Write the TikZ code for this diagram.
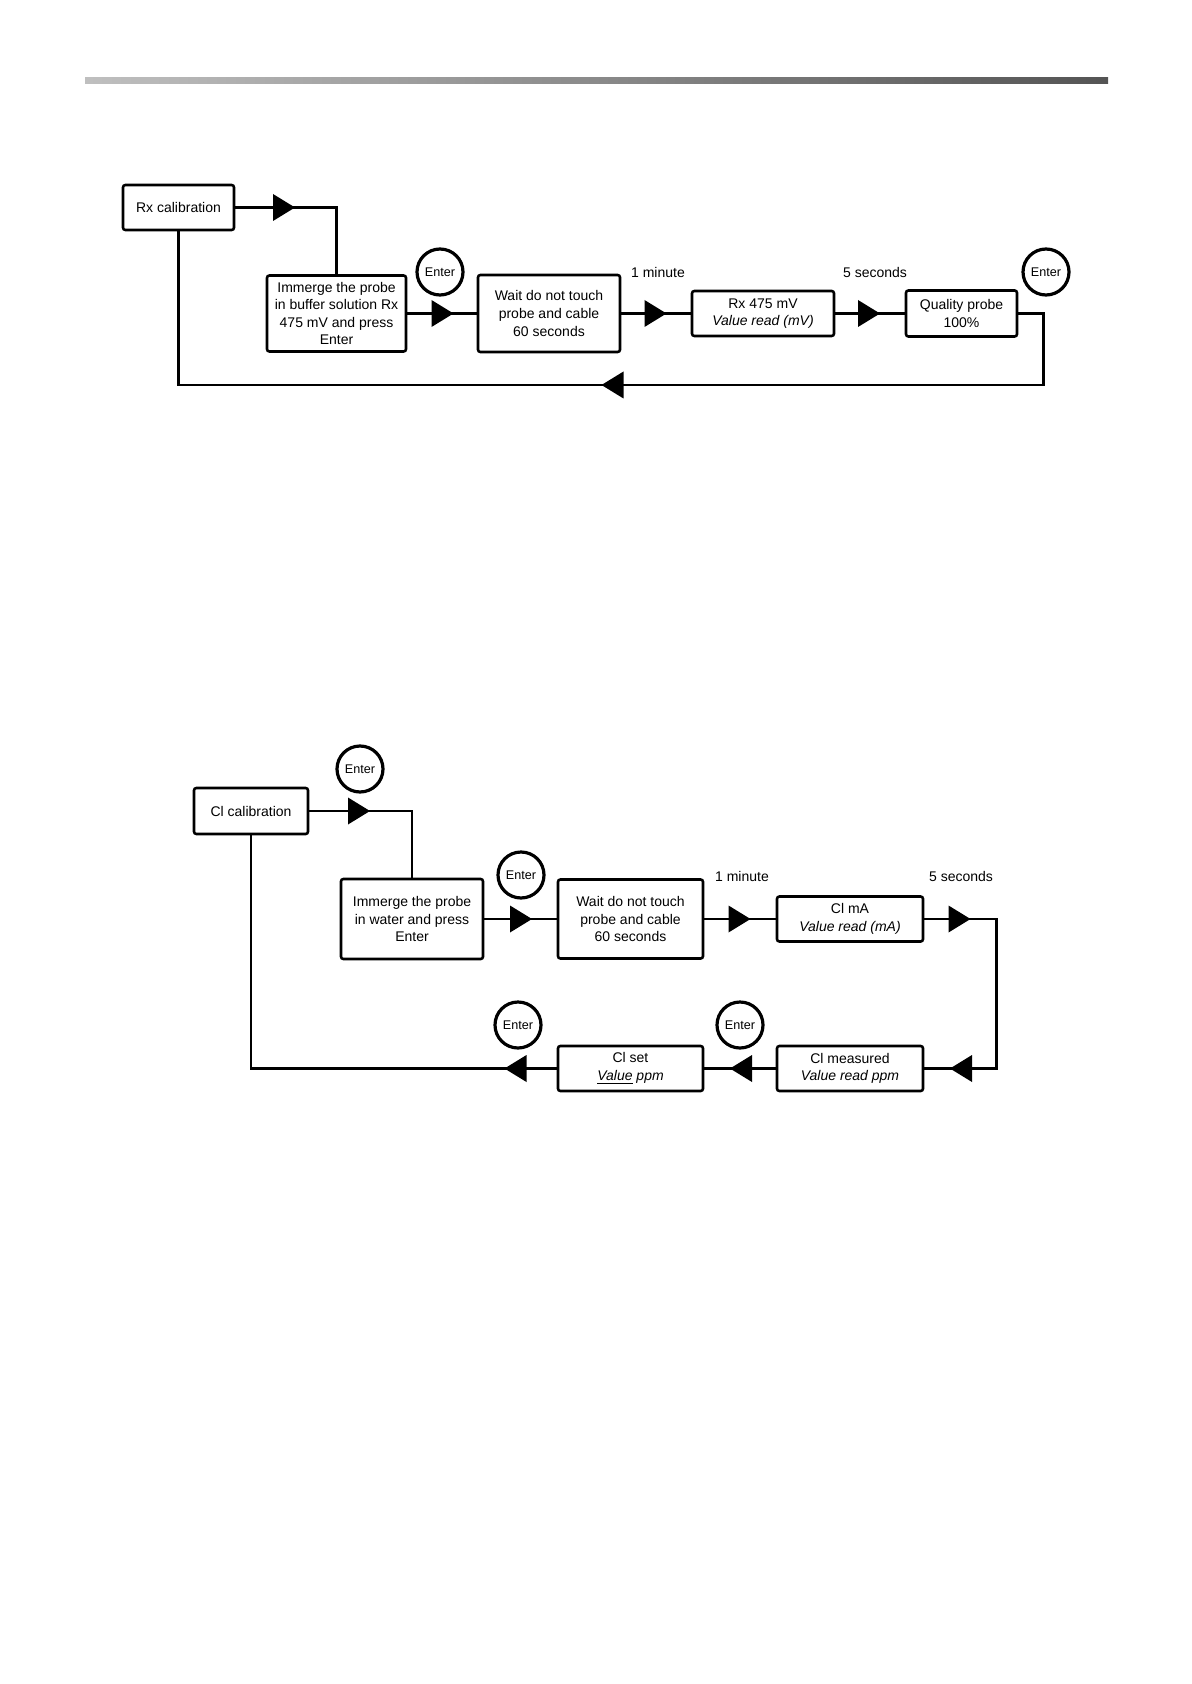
\documentclass[tikz,border=0pt]{standalone}
\usepackage{fontspec}
\setmainfont{Liberation Sans}
\usetikzlibrary{calc}
\tikzset{
  box/.style={draw, line width=1.3pt, rounded corners=1.2pt, align=center, inner sep=0pt, fill=white,
    font=\fontsize{7}{8.8}\selectfont},
  conn/.style={line width=1.2pt},
  enterc/.style={draw, circle, line width=1.6pt, minimum size=23pt, inner sep=0pt,
    font=\fontsize{6.3}{7}\selectfont},
  lbl/.style={inner sep=0pt, font=\fontsize{7}{8.8}\selectfont},
  rtri/.pic={\fill (-11,-13.5) -- (11,0) -- (-11,13.5) -- cycle; \coordinate (-c) at (0,0);},
  ltri/.pic={\fill (11,-13.5) -- (-11,0) -- (11,13.5) -- cycle; \coordinate (-c) at (0,0);}
}
\begin{document}
\begin{tikzpicture}[x=0.5pt, y=-0.5pt]
\useasboundingbox (0,0) rectangle (1191,1684);
% header bar
\shade[left color=black!25, right color=black!67] (85,78) rectangle (1108,84);

% ---------- Rx calibration ----------
\node[box, minimum width=55.5pt, minimum height=22.5pt] (rxcal) at (178.5,207.5) {Rx calibration};
\node[box, minimum width=69.5pt, minimum height=38pt] (imm) at (336.5,313.5) {Immerge the probe\\in buffer solution Rx\\475 mV and press\\Enter};
\node[box, minimum width=71pt, minimum height=38.5pt] (wait) at (549,313.5) {Wait do not touch\\probe and cable\\60 seconds};
\node[box, minimum width=71pt, minimum height=22.5pt] (rxval) at (763,313.5) {Rx 475 mV\\\textit{Value read (mV)}};
\node[box, minimum width=55.5pt, minimum height=23pt] (qual) at (961.5,313.5) {Quality probe\\100\%};
\node[enterc] (e1) at (440,272) {Enter};
\node[enterc] (e2) at (1046,272) {Enter};
\node[lbl] (m1) at (658,272) {1 minute};
\node[lbl] (s1) at (875,272) {5 seconds};
\coordinate (r1) at (1043.5,385);

\draw[conn] (rxcal.east) -| (imm.north);
\draw[conn] (imm.east) -- (wait.west);
\draw[conn] (wait.east) -- (rxval.west);
\draw[conn] (rxval.east) -- (qual.west);
\draw[conn] (qual.east) -| (r1) -| (rxcal.south);

\pic (ta) at (284,207.5) {rtri};
\pic (tb) at (442.5,313.5) {rtri};
\pic (tc) at (655.5,313.5) {rtri};
\pic (td) at (869,313.5) {rtri};
\pic (te) at (612.5,385) {ltri};

% ---------- Cl calibration ----------
\node[box, minimum width=57pt, minimum height=23pt] (clcal) at (251,811) {Cl calibration};
\node[box, minimum width=71pt, minimum height=40pt] (imm2) at (412,919) {Immerge the probe\\in water and press\\Enter};
\node[box, minimum width=72.5pt, minimum height=39.5pt] (wait2) at (630.5,919) {Wait do not touch\\probe and cable\\60 seconds};
\node[box, minimum width=73pt, minimum height=22.5pt] (clma) at (850,919) {Cl mA\\\textit{Value read (mA)}};
\node[box, minimum width=73pt, minimum height=22.5pt] (clmeas) at (850,1068.5) {Cl measured\\\textit{Value read ppm}};
\node[box, minimum width=72.5pt, minimum height=22.5pt] (clset) at (630.5,1068.5) {Cl set\\\textit{\underline{Value} ppm}};
\node[enterc] (e3) at (360,769) {Enter};
\node[enterc] (e4) at (521,875) {Enter};
\node[enterc] (e5) at (740,1025) {Enter};
\node[enterc] (e6) at (518,1025) {Enter};
\node[lbl] (m2) at (742,876) {1 minute};
\node[lbl] (s2) at (961,876) {5 seconds};
\coordinate (r2) at (996.5,919);

\draw[conn] (clcal.east) -| (imm2.north);
\draw[conn] (imm2.east) -- (wait2.west);
\draw[conn] (wait2.east) -- (clma.west);
\draw[conn] (clma.east) -- (r2) |- (clmeas.east);
\draw[conn] (clmeas.west) -- (clset.east);
\draw[conn] (clset.west) -| (clcal.south);

\pic (tf) at (359,811) {rtri};
\pic (tg) at (521,919) {rtri};
\pic (th) at (739.5,919) {rtri};
\pic (ti) at (959.5,919) {rtri};
\pic (tj) at (961,1068.5) {ltri};
\pic (tk) at (741,1068.5) {ltri};
\pic (tl) at (515.5,1068.5) {ltri};
\end{tikzpicture}
\end{document}
